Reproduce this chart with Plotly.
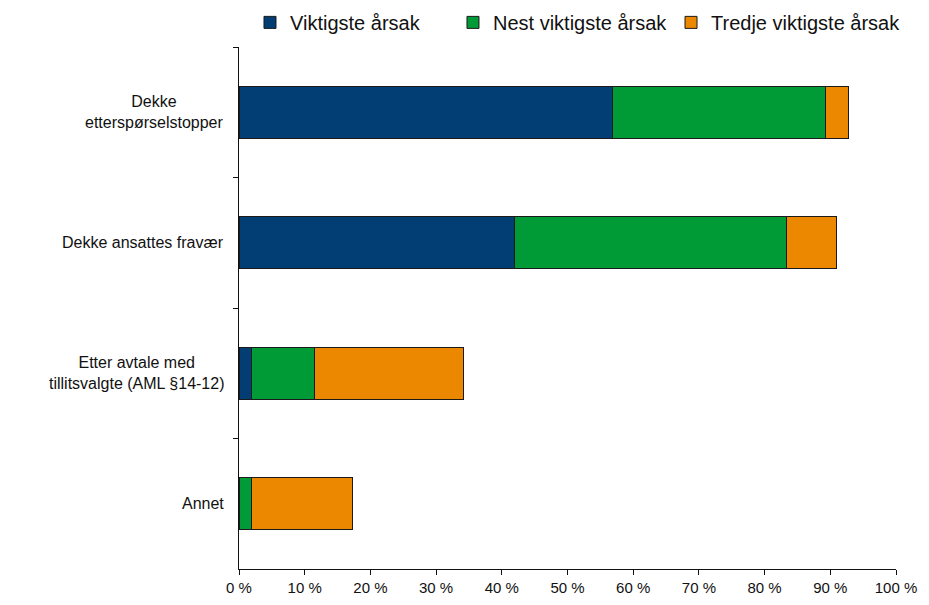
import plotly.graph_objects as go

# Reasons, top to bottom
categories = [
    "Dekke<br>etterspørselstopper",
    "Dekke ansattes fravær",
    "Etter avtale med<br>tillitsvalgte (AML §14-12)",
    "Annet",
]

# Share of respondents (%) per rank
viktigste = [56.8, 41.9, 1.9, 0.0]
nest_viktigste = [32.4, 41.4, 9.6, 1.9]
tredje_viktigste = [3.6, 7.6, 22.7, 15.3]

series_names = ["Viktigste årsak", "Nest viktigste årsak", "Tredje viktigste årsak"]
series_values = [viktigste, nest_viktigste, tredje_viktigste]
series_colors = ["#023E74", "#009A36", "#EC8800"]
legend_ids = ["legend", "legend2", "legend3"]
legend_x = [0.2691, 0.4876, 0.7223]

x_ticks = list(range(0, 101, 10))
x_tick_labels = [f"{v} %" for v in x_ticks]

FONT = "Liberation Sans, Arial, sans-serif"

fig = go.Figure()
for name, vals, col, lg in zip(series_names, series_values, series_colors, legend_ids):
    fig.add_trace(go.Bar(
        y=categories, x=vals, name=name, orientation="h",
        marker=dict(color=col, line=dict(color="#1a1a1a", width=1)),
        width=0.4, legend=lg, showlegend=True,
    ))

# Category labels, centred line by line to the left of the axis
for cat in categories:
    fig.add_annotation(
        x=0, xref="paper", y=cat, yref="y", text=cat,
        xanchor="right", yanchor="middle", align="center", xshift=-13,
        showarrow=False, font=dict(family=FONT, size=16, color="#111"),
    )

# One legend box per series so each entry sits at its own position
legend_style = dict(
    orientation="h", xref="container", yref="container",
    xanchor="left", y=0.963, yanchor="middle",
    font=dict(family=FONT, size=20, color="#111"),
    itemclick=False, bgcolor="rgba(0,0,0,0)",
)
legends = {lg: dict(legend_style, x=lx) for lg, lx in zip(legend_ids, legend_x)}

fig.update_layout(
    width=929, height=605,
    showlegend=True,
    margin=dict(l=239, r=33, t=47, b=36, autoexpand=False),
    paper_bgcolor="white", plot_bgcolor="white",
    barmode="stack",
    font=dict(family=FONT, size=15, color="#111"),
    xaxis=dict(
        range=[0, 100], tickvals=x_ticks, ticktext=x_tick_labels,
        showgrid=False, zeroline=False,
        showline=True, linecolor="#111", linewidth=1,
        ticks="outside", ticklen=5, tickcolor="#111",
        tickfont=dict(family=FONT, size=15, color="#111"),
    ),
    yaxis=dict(
        autorange="reversed", showgrid=False, zeroline=False,
        showline=True, linecolor="#111", linewidth=1,
        ticks="outside", ticklen=5, tickcolor="#111", tickson="boundaries",
        showticklabels=False,
    ),
    **legends,
)

fig.write_html("out.html")
